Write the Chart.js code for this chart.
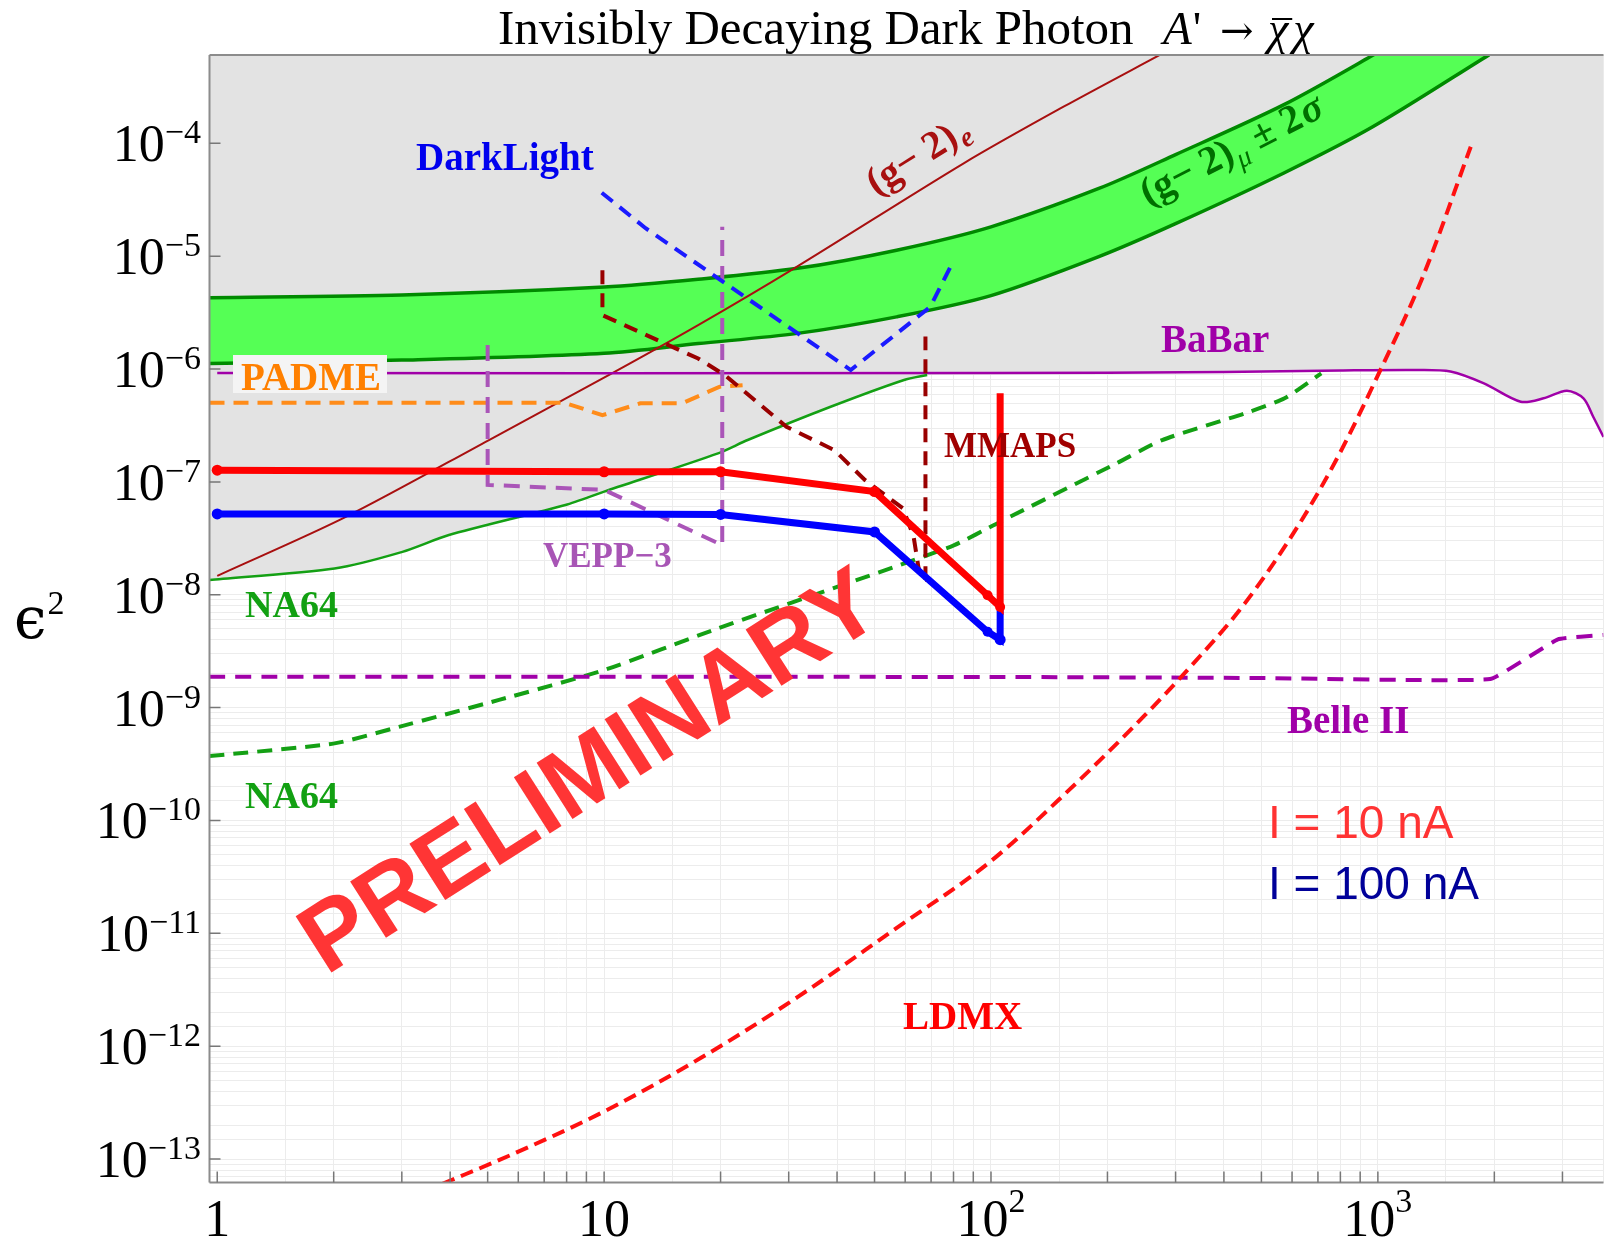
<!DOCTYPE html>
<html>
<head>
<meta charset="utf-8">
<script src="https://cdn.jsdelivr.net/npm/chart.js@4/dist/chart.umd.min.js"></script>
<style>
  html, body { margin: 0; padding: 0; background: #fff; }
</style>
</head>
<body>
<canvas id="myChart" width="1609" height="1240"></canvas>
<script>
// axis ranges
const xMin = 0.955, xMax = 3830;
const yMin = 6.2e-14, yMax = 6.06e-4;

// tick labels
const xTickValues = [1, 10, 100, 1000];
const xTickText = ["1", "10", "10", "10"];
const xTickSup = ["", "", "2", "3"];
const yTickExps = [-4, -5, -6, -7, -8, -9, -10, -11, -12, -13];

// (g-2)mu +- 2 sigma band
const gm2MuX = [0.955, 3, 10, 17.5, 31.6, 57, 100, 190, 300, 570, 970, 1940];
const gm2MuUpper = [4.29e-6, 4.53e-6, 5.32e-6, 6.24e-6, 7.8e-6, 1.13e-5, 1.82e-5, 3.98e-5, 7.94e-5, 2.19e-4, 6.03e-4, 2.4e-3];
const gm2MuLower = [1.12e-6, 1.2e-6, 1.38e-6, 1.68e-6, 2.07e-6, 2.9e-6, 4.47e-6, 9.9e-6, 1.94e-5, 5.43e-5, 1.4e-4, 6.1e-4];

// [mass in MeV, eps^2]
const gm2e = [[1, 1.47e-8], [2.15, 4.9e-8], [5.04, 2.35e-7], [10.5, 9.2e-7], [17.5, 2.45e-6], [31, 7.8e-6], [85, 6.65e-5], [154, 2.11e-4], [278, 6.27e-4]];
const babar = [[1, 9.2e-7], [100, 9.2e-7], [400, 9.4e-7], [800, 9.7e-7], [1260, 9.8e-7], [1540, 9.5e-7], [1880, 7.46e-7], [2340, 5.13e-7], [2680, 5.5e-7], [3080, 6.43e-7], [3400, 5.5e-7], [3600, 3.8e-7], [3830, 2.5e-7]];
const na64Solid = [[0.955, 1.35e-8], [2.01, 1.71e-8], [3.01, 2.4e-8], [3.97, 3.38e-8], [7.94, 6.24e-8], [10, 8.2e-8], [19.7, 1.79e-7], [23.5, 2.35e-7], [38.5, 4.63e-7], [59.6, 8.0e-7], [68.4, 8.85e-7]];
const na64Dashed = [[0.955, 3.72e-10], [2.01, 4.82e-10], [2.95, 6.76e-10], [5.35, 1.17e-9], [10, 2.15e-9], [19.7, 5.04e-9], [78.5, 2.66e-8], [105.7, 4.44e-8], [211, 1.46e-7], [277, 2.35e-7], [453, 4.05e-7], [574, 5.5e-7], [714, 9.16e-7]];
const belle2 = [[0.955, 1.88e-9], [100, 1.87e-9], [500, 1.83e-9], [1950, 1.79e-9], [2920, 4.03e-9], [3830, 4.4e-9]];
const ldmx = [[3.82, 6.03e-14], [5.75, 1.09e-13], [10, 2.64e-13], [17.8, 7.89e-13], [31.6, 2.72e-12], [56.2, 1.08e-11], [100, 4.37e-11], [158, 1.82e-10], [251, 8.7e-10], [331, 2.39e-9], [452, 8.3e-9], [631, 4.41e-8], [794, 1.75e-7], [1000, 8.79e-7], [1303, 6.41e-6], [1738, 9.33e-5]];
const darkLight = [[9.86, 3.65e-5], [12.8, 1.77e-5], [43.4, 9.8e-7], [69.7, 3.56e-6], [80.2, 9.25e-6]];
const mmaps = [[9.9, 7.5e-6], [9.9, 3.0e-6], [17.5, 1.24e-6], [20.5, 8.85e-7], [29.6, 3.08e-7], [39.4, 1.91e-7], [47.2, 1.04e-7], [59.2, 5.83e-8], [63.1, 3.27e-8], [64.9, 1.77e-8], [66.4, 1.35e-8], [67.7, 1.35e-8], [67.7, 1.94e-6]];
const vepp3 = [[5, 1.63e-6], [5, 9.4e-8], [10, 8.5e-8], [20.2, 2.75e-8], [20.2, 1.82e-5]];
const padme = [[0.955, 5.03e-7], [7.9, 5.03e-7], [9.9, 3.9e-7], [12.4, 4.97e-7], [15.9, 4.97e-7], [19.9, 6.97e-7], [22.8, 7.2e-7]];
const red10nA = [[1, 1.27e-7], [10, 1.23e-7], [20, 1.23e-7], [50, 8.2e-8], [98, 9.9e-9], [105.6, 7.8e-9], [105.6, 6.1e-7]];
const blue100nA = [[1, 5.2e-8], [10, 5.2e-8], [20, 5.15e-8], [50, 3.6e-8], [98, 4.7e-9], [105.6, 4.0e-9], [105.6, 7.3e-9]];

// where NA64 meets BaBar (edge of the excluded region)
const joinX = 68.4;

const pts = arr => arr.map(p => ({ x: p[0], y: p[1] }));

function curve(data, color, width, dash, order, extra) {
  return Object.assign({
    data: data, borderColor: color, borderWidth: width, borderDash: dash || [],
    pointRadius: 0, fill: false, tension: 0, order: order, clip: 0
  }, extra || {});
}

const grayEdge = na64Solid.filter(p => p[0] <= joinX).concat(babar.filter(p => p[0] > joinX));

const datasets = [
  curve(pts(grayEdge), "rgba(0,0,0,0)", 0, null, 30, { fill: "end", backgroundColor: "#e3e3e3" }),
  curve(gm2MuX.map((x, i) => ({ x: x, y: gm2MuUpper[i] })), "#008a00", 3.5, null, 29, { tension: 0.3 }),
  curve(gm2MuX.map((x, i) => ({ x: x, y: gm2MuLower[i] })), "#008a00", 3.5, null, 28, { tension: 0.3, fill: "-1", backgroundColor: "#55ff55" }),
  curve(pts(gm2e), "#a81010", 2, null, 20, { tension: 0.3 }),
  curve(pts(babar), "#a000a8", 2.5, null, 19, { tension: 0.3 }),
  curve(pts(na64Solid), "#14a014", 2.5, null, 18, { tension: 0.25 }),
  curve(pts(na64Dashed), "#14a014", 4, [15, 9], 17, { tension: 0.2 }),
  curve(pts(belle2), "#a000a8", 4, [16, 10], 16, { tension: 0.1 }),
  curve(pts(ldmx), "#ff1010", 4, [13, 7], 15, { cubicInterpolationMode: "monotone" }),
  curve(pts(padme), "#ff8c1a", 4, [15, 9], 14),
  curve(pts(vepp3), "#aa55b8", 4, [16, 10], 13),
  curve(pts(mmaps), "#990000", 4, [14, 9], 12),
  curve(pts(darkLight), "#1a1aff", 4, [14, 9], 11),
  curve(pts(blue100nA), "#0000ff", 7, null, 2, {
    pointRadius: [5.5, 5.5, 5.5, 5.5, 5, 5.5, 0], pointBackgroundColor: "#0000ff", pointBorderWidth: 0
  }),
  curve(pts(red10nA), "#ff0000", 7, null, 1, {
    pointRadius: [5.5, 5.5, 5.5, 5.5, 5, 5, 0], pointBackgroundColor: "#ff0000", pointBorderWidth: 0
  })
];

// text labels placed in the plot, pixel positions
const serifB = px => "bold " + px + "px 'Liberation Serif'";
const labels = [
  { t: "DarkLight", x: 416, y: 170, f: serifB(39), c: "#0000ee" },
  { t: "BaBar", x: 1161, y: 352, f: serifB(39), c: "#a000a8" },
  { t: "MMAPS", x: 944, y: 457, f: serifB(35), c: "#a00000" },
  { t: "VEPP\u22123", x: 543, y: 567, f: serifB(35), c: "#a855b5" },
  { t: "NA64", x: 245, y: 617, f: serifB(38), c: "#12a012" },
  { t: "NA64", x: 245, y: 808, f: serifB(38), c: "#12a012" },
  { t: "Belle II", x: 1287, y: 733, f: serifB(39), c: "#a000a8" },
  { t: "LDMX", x: 903, y: 1029, f: serifB(39), c: "#ff0000" },
  { t: "I = 10 nA", x: 1268, y: 838, f: "46px 'Liberation Sans'", c: "#ff3333" },
  { t: "I = 100 nA", x: 1268, y: 899, f: "46px 'Liberation Sans'", c: "#000099" }
];

function put(ctx, t, x, y, font, color) {
  ctx.font = font;
  ctx.fillStyle = color;
  ctx.fillText(t, x, y);
  return ctx.measureText(t).width;
}

const bigF = "52px 'Liberation Serif'";
const supF = "34px 'Liberation Serif'";

const overlay = {
  id: "overlay",
  afterDatasetsDraw(chart) {
    const ctx = chart.ctx;
    const a = chart.chartArea;
    const xs = chart.scales.x, ys = chart.scales.y;
    ctx.save();
    ctx.textAlign = "left";
    ctx.textBaseline = "alphabetic";

    // frame
    ctx.strokeStyle = "#8c8c8c";
    ctx.lineWidth = 2;
    ctx.beginPath();
    ctx.moveTo(a.left, a.top); ctx.lineTo(a.right, a.top);
    ctx.moveTo(a.left, a.top); ctx.lineTo(a.left, a.bottom);
    ctx.moveTo(a.left, a.bottom); ctx.lineTo(a.right, a.bottom);
    ctx.stroke();

    // small ticks
    ctx.lineWidth = 1.5;
    ctx.strokeStyle = "#777";
    ctx.beginPath();
    for (let k = 0; k <= 3; k++) {
      for (let m = 1; m <= 9; m++) {
        const v = m * Math.pow(10, k);
        if (v < xMin || v > xMax) continue;
        const px = xs.getPixelForValue(v);
        ctx.moveTo(px, a.bottom); ctx.lineTo(px, a.bottom - 11);
      }
    }
    yTickExps.forEach(e => {
      const py = ys.getPixelForValue(Math.pow(10, e));
      ctx.moveTo(a.left, py); ctx.lineTo(a.left + 11, py);
    });
    ctx.stroke();

    // y tick labels 10^-n
    yTickExps.forEach(e => {
      const py = ys.getPixelForValue(Math.pow(10, e));
      const sup = "\u2212" + Math.abs(e);
      ctx.font = supF;
      const ws = ctx.measureText(sup).width;
      ctx.font = bigF;
      const wb = ctx.measureText("10").width;
      put(ctx, "10", 201 - ws - wb, py + 18, bigF, "#000");
      put(ctx, sup, 201 - ws, py, supF, "#000");
    });

    // x tick labels
    xTickValues.forEach((v, i) => {
      const px = xs.getPixelForValue(v);
      ctx.font = bigF;
      const wb = ctx.measureText(xTickText[i]).width;
      ctx.font = supF;
      const ws = xTickSup[i] ? ctx.measureText(xTickSup[i]).width : 0;
      const x0 = px - (wb + ws) / 2;
      put(ctx, xTickText[i], x0, 1236, bigF, "#000");
      if (xTickSup[i]) put(ctx, xTickSup[i], x0 + wb, 1212, supF, "#000");
    });

    // axis title
    const we = put(ctx, "\u03F5", 14, 638, "58px 'DejaVu Serif'", "#000");
    put(ctx, "2", 14 + we + 1, 614, "34px 'Liberation Serif'", "#000");

    // title
    put(ctx, "Invisibly Decaying Dark Photon", 498, 44, "49px 'Liberation Serif'", "#000");
    let tx = 1163;
    tx += put(ctx, "A", tx, 44, "italic 47px 'Liberation Serif'", "#000");
    put(ctx, "'", tx + 1, 44, "47px 'Liberation Serif'", "#000");
    put(ctx, "\u2192", 1220, 44, "40px 'DejaVu Serif'", "#000");
    const wChi = put(ctx, "\u03C7", 1268, 44, "italic 46px 'Liberation Serif'", "#000");
    put(ctx, "\u03C7", 1268 + wChi + 5, 44, "italic 46px 'Liberation Serif'", "#000");
    ctx.strokeStyle = "#000";
    ctx.lineWidth = 2;
    ctx.beginPath();
    ctx.moveTo(1272, 19); ctx.lineTo(1270 + wChi + 2, 19);
    ctx.stroke();

    // PADME label with its light box
    ctx.fillStyle = "#f4f4f4";
    ctx.fillRect(233, 355, 154, 38);
    put(ctx, "PADME", 241, 390, serifB(39), "#ff8000");

    labels.forEach(l => put(ctx, l.t, l.x, l.y, l.f, l.c));

    // (g-2)_e along its line
    ctx.save();
    ctx.translate(876, 196);
    ctx.rotate(-32 * Math.PI / 180);
    let w = put(ctx, "(g\u2212 2)", 0, 0, serifB(40), "#a81010");
    put(ctx, "e", w + 2, 7, "italic bold 28px 'Liberation Serif'", "#a81010");
    ctx.restore();

    // (g-2)_mu +- 2 sigma along the band
    ctx.save();
    ctx.translate(1148, 206);
    ctx.rotate(-27 * Math.PI / 180);
    const g = "#006e00";
    w = put(ctx, "(g\u2212 2)", 0, 0, serifB(40), g);
    w += put(ctx, "\u03BC", w + 1, 9, "italic 28px 'Liberation Serif'", g) + 11;
    w += put(ctx, "\u00B1 2", w, 0, serifB(40), g);
    put(ctx, "\u03C3", w + 2, 0, "italic bold 40px 'Liberation Serif'", g);
    ctx.restore();

    // watermark
    ctx.save();
    ctx.translate(326, 976);
    ctx.rotate(-32.5 * Math.PI / 180);
    put(ctx, "PRELIMINARY", 0, 0, "bold 97px 'Liberation Sans'", "#ff3535");
    ctx.restore();

    ctx.restore();
  }
};

const gridColor = "#ececec";

const ctx = document.getElementById("myChart").getContext("2d");
const myChart = new Chart(ctx, {
  type: "line",
  data: { datasets: datasets },
  options: {
    responsive: false,
    animation: false,
    devicePixelRatio: 1,
    events: [],
    layout: { padding: { top: 55, right: 0, left: 0, bottom: 0 } },
    plugins: {
      legend: { display: false },
      tooltip: { enabled: false },
      filler: { drawTime: "beforeDatasetsDraw" }
    },
    scales: {
      x: {
        type: "logarithmic", min: xMin, max: xMax,
        ticks: { display: false },
        grid: { color: gridColor, drawTicks: false, lineWidth: 1 },
        border: { display: false },
        afterFit(s) { s.height = 57.5; }
      },
      y: {
        type: "logarithmic", min: yMin, max: yMax,
        ticks: { display: false },
        grid: { color: gridColor, drawTicks: false, lineWidth: 1 },
        border: { display: false },
        afterFit(s) { s.width = 209.5; }
      }
    }
  },
  plugins: [overlay]
});
</script>
</body>
</html>
